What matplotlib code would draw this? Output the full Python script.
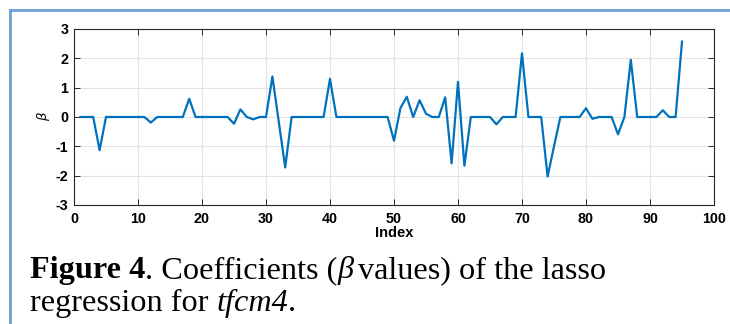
import matplotlib
matplotlib.use("Agg")
import matplotlib.pyplot as plt
from matplotlib.lines import Line2D

index = list(range(1, 96))
beta = [0, 0, 0, -1.13, 0, 0, 0, 0, 0, 0,
        0, -0.19, 0, 0, 0, 0, 0, 0.62, 0, 0,
        0, 0, 0, 0, -0.23, 0.26, 0, -0.08, 0, 0,
        1.38, -0.17, -1.72, 0, 0, 0, 0, 0, 0, 1.30,
        0, 0, 0, 0, 0, 0, 0, 0, 0, -0.81,
        0.30, 0.69, 0, 0.57, 0.11, 0, 0, 0.67, -1.58, 1.20,
        -1.66, 0, 0, 0, 0, -0.25, 0, 0, 0, 2.17,
        0, 0, 0, -2.03, -1.00, 0, 0, 0, 0, 0.30,
        -0.06, 0, 0, 0, -0.59, 0, 1.95, 0, 0, 0,
        0, 0.23, 0, 0, 2.57]
xticks = list(range(0, 101, 10))
yticks = list(range(-3, 4))

fig = plt.figure(figsize=(7.3, 3.24), dpi=100)
ax = fig.add_axes([74/730, 1-205/324, 640/730, 176/324])
ax.plot(index, beta, color="#0072BD", lw=1.6)
ax.set_xlim(0, 100)
ax.set_ylim(-3, 3)
ax.set_xticks(xticks)
ax.set_yticks(yticks)
tf = dict(family="Liberation Sans", weight="bold", size=10.3)
ax.set_xticklabels([str(v) for v in xticks], fontdict=tf)
ax.set_yticklabels([str(v) for v in yticks], fontdict=tf)
ax.tick_params(direction="in", length=4, width=0.7, top=True, right=True,
               colors="#262626", labelcolor="black")
ax.tick_params(axis="x", pad=5)
ax.tick_params(axis="y", pad=4)
ax.grid(True, color="#e3e3e3", lw=0.8)
ax.set_axisbelow(True)
for s in ax.spines.values():
    s.set_color("#262626")
    s.set_linewidth(0.8)
ax.set_xlabel("Index", family="Liberation Sans", weight="bold", size=10.5, labelpad=0)
ax.set_ylabel("β", family="DejaVu Sans", style="italic", size=9.5, labelpad=4)

# document frame lines
fig.add_artist(Line2D([10/730, 10/730], [0, 1-10/324], color="#6fa0d8", lw=2.0))
fig.add_artist(Line2D([10/730, 1], [1-10/324, 1-10/324], color="#6fa0d8", lw=2.0))

cap = dict(family="Liberation Serif", size=23.2, color="black")
fig.canvas.draw()
r = fig.canvas.get_renderer()

def put(xpx, y, s, **kw):
    t = fig.text(xpx / 730, y, s, va="baseline", **cap, **kw)
    return t.get_window_extent(r).x1

y1 = 1 - 278/324
y2 = 1 - 311/324
x = put(30, y1, "Figure 4", weight="bold")
x = put(x, y1, ". Coefficients (")
x = put(x, y1, "β", style="italic")
x = put(x + 4, y1, "values) of the lasso")
x = put(30, y2, "regression for ")
x = put(x, y2, "tfcm4", style="italic")
put(x, y2, ".")

fig.savefig("out.png", dpi=100)
